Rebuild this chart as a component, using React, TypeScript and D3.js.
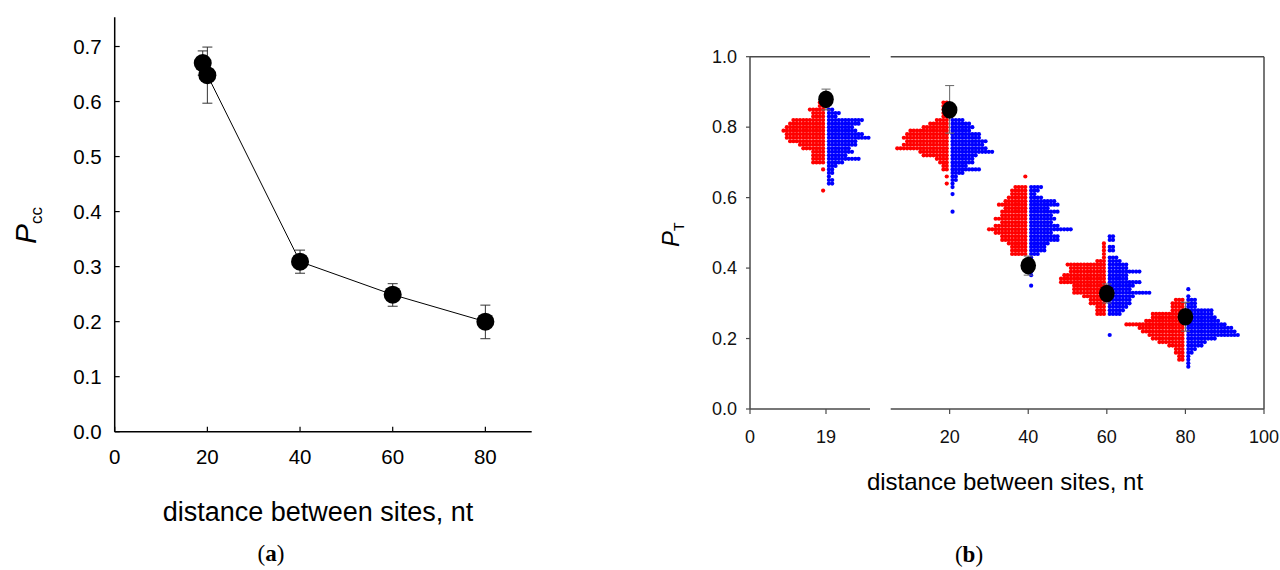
import React from 'react';
import * as d3 from 'd3';

// ---- panel (a): P_cc vs distance ----
const distA = [19, 20, 40, 60, 80];
const pccMean = [0.670, 0.648, 0.309, 0.249, 0.200];
const pccHigh = [0.692, 0.699, 0.330, 0.269, 0.230];
const pccLow = [0.648, 0.597, 0.288, 0.228, 0.169];
const xTicksA = [0, 20, 40, 60, 80];
const yTicksA = [0, 0.1, 0.2, 0.3, 0.4, 0.5, 0.6, 0.7];

// ---- panel (b): P_T distributions ----
const groupsB = [19, 20, 40, 60, 80];
const ptMean = [0.879, 0.849, 0.407, 0.328, 0.262];
const ptHigh = [0.908, 0.918, 0.434, 0.355, 0.303];
const ptLow = [0.849, 0.783, 0.380, 0.301, 0.221];
// lowest bin (in hundredths) of each group, dot counts per 0.01 bin going up
const binStart = [62, 56, 35, 21, 12];
const red19 = [1, 0, 0, 0, 0, 0, 1, 0, 4, 4, 4, 4, 7, 8, 11, 12, 12, 13, 12, 11, 10, 4, 4, 5, 2, 2];
const blue19 = [0, 0, 2, 2, 1, 2, 2, 3, 5, 10, 6, 8, 7, 9, 9, 13, 11, 9, 8, 10, 11, 3, 4, 2];
const red20 = [0, 0, 0, 0, 0, 0, 0, 0, 1, 0, 1, 0, 2, 2, 3, 4, 8, 9, 16, 14, 13, 14, 13, 12, 8, 6, 4, 2, 2, 2, 2, 2];
const blue20 = [1, 0, 0, 0, 0, 1, 0, 1, 1, 2, 2, 4, 9, 5, 7, 7, 8, 13, 11, 10, 11, 9, 9, 6, 7, 6, 4];
const red40 = [0, 0, 0, 0, 0, 0, 0, 0, 0, 5, 5, 5, 6, 8, 8, 10, 12, 10, 8, 10, 8, 8, 7, 9, 7, 6, 5, 5, 4, 0, 0, 1];
const blue40 = [1, 0, 0, 1, 1, 1, 1, 1, 1, 3, 5, 5, 6, 9, 9, 7, 13, 9, 7, 8, 7, 9, 6, 9, 8, 4, 2, 3, 4];
const red60 = [0, 0, 0, 0, 0, 0, 3, 3, 3, 5, 5, 7, 10, 10, 10, 14, 14, 13, 11, 11, 12, 3, 1, 1, 1, 1, 1];
const blue60 = [1, 0, 0, 0, 0, 0, 4, 5, 6, 7, 7, 8, 13, 7, 8, 10, 6, 6, 10, 6, 6, 4, 3, 0, 2, 2, 0, 2, 2];
const red80 = [0, 0, 2, 2, 3, 3, 5, 8, 10, 11, 13, 14, 18, 12, 10, 10, 4, 4, 4, 3];
const blue80 = [1, 1, 1, 1, 2, 3, 5, 6, 9, 16, 15, 14, 12, 10, 9, 8, 8, 3, 3, 3, 1, 0, 1];
const redRows = [red19, red20, red40, red60, red80];
const blueRows = [blue19, blue20, blue40, blue60, blue80];
const yTicksB = [0, 0.2, 0.4, 0.6, 0.8, 1.0];
const xTicksLeftB = [0, 19];
const xTicksRightB = [20, 40, 60, 80, 100];

const sans = '"Liberation Sans", Arial, sans-serif';
const serif = '"Liberation Serif", "Times New Roman", serif';

function PanelA() {
  const x = d3.scaleLinear().domain([0, 90]).range([114.7, 531.7]);
  const y = d3.scaleLinear().domain([0, 0.75]).range([431.7, 19]);
  const line = d3.line<number>().x((d, i) => x(distA[i])).y(d => y(d));
  return (
    <g>
      <line x1={x(0)} x2={x(0)} y1={y(0.753)} y2={y(0)} stroke="#000" strokeWidth={1.5} />
      <line x1={x(0)} x2={x(90)} y1={y(0)} y2={y(0)} stroke="#000" strokeWidth={1.5} />
      {yTicksA.map(t => (
        <g key={'ya' + t}>
          <line x1={x(0)} x2={x(0) + 5} y1={y(t)} y2={y(t)} stroke="#000" strokeWidth={1.2} />
          <text x={x(0) - 13} y={y(t)} dy="0.35em" textAnchor="end" fontSize={20.5} fontFamily={sans}>
            {d3.format('.1f')(t)}
          </text>
        </g>
      ))}
      {xTicksA.map(t => (
        <g key={'xa' + t}>
          <line x1={x(t)} x2={x(t)} y1={y(0)} y2={y(0) - 5} stroke="#000" strokeWidth={1.2} />
          <text x={x(t)} y={464} textAnchor="middle" fontSize={20.5} fontFamily={sans}>{t}</text>
        </g>
      ))}
      <path d={line(pccMean) || ''} fill="none" stroke="#000" strokeWidth={1} />
      {distA.map((d, i) => (
        <g key={'ea' + i} stroke="#333" strokeWidth={1}>
          <line x1={x(d)} x2={x(d)} y1={y(pccHigh[i])} y2={y(pccLow[i])} />
          <line x1={x(d) - 5} x2={x(d) + 5} y1={y(pccHigh[i])} y2={y(pccHigh[i])} />
          <line x1={x(d) - 5} x2={x(d) + 5} y1={y(pccLow[i])} y2={y(pccLow[i])} />
        </g>
      ))}
      {distA.map((d, i) => (
        <circle key={'ma' + i} cx={x(d)} cy={y(pccMean[i])} r={9} fill="#000" />
      ))}
      <text transform="translate(36,244) rotate(-90)" fontFamily={sans}>
        <tspan fontSize={30} fontStyle="italic">P</tspan>
        <tspan fontSize={17} dy={6}>cc</tspan>
      </text>
      <text x={318} y={521} textAnchor="middle" fontSize={27} fontFamily={sans}>distance between sites, nt</text>
      <text x={271} y={561} textAnchor="middle" fontSize={23} fontFamily={serif}>
        (<tspan fontWeight="bold">a</tspan>)
      </text>
    </g>
  );
}

function PanelB() {
  const xLeft = d3.scaleLinear().domain([0, 30]).range([750, 870]);
  const xRight = d3.scaleLinear().domain([5, 100]).range([890.7, 1264]);
  const y = d3.scaleLinear().domain([0, 1]).range([409, 56.7]);
  const gx = (g: number, i: number) => (i === 0 ? xLeft(g) : xRight(g));
  const axisColor = '#4a4a4a';
  const gap = 2.9;
  const step = 3.3;
  const dots: { x: number; y: number; c: string }[] = [];
  groupsB.forEach((g, gi) => {
    const cx = gx(g, gi);
    redRows[gi].forEach((n, r) => {
      const v = (binStart[gi] + r) / 100;
      for (let k = 0; k < n; k++) dots.push({ x: cx - gap - k * step, y: y(v), c: '#ff0000' });
    });
    blueRows[gi].forEach((n, r) => {
      const v = (binStart[gi] + r) / 100;
      for (let k = 0; k < n; k++) dots.push({ x: cx + gap + k * step, y: y(v), c: '#0000ff' });
    });
  });
  return (
    <g>
      {/* frame with broken x range */}
      <line x1={xLeft(0)} x2={xLeft(0)} y1={y(1)} y2={y(0)} stroke={axisColor} strokeWidth={1.5} />
      <line x1={xRight(100)} x2={xRight(100)} y1={y(1)} y2={y(0)} stroke={axisColor} strokeWidth={1.5} />
      {[0, 1].map(v => (
        <g key={'fr' + v}>
          <line x1={xLeft(0)} x2={xLeft(30)} y1={y(v)} y2={y(v)} stroke={axisColor} strokeWidth={1.5} />
          <line x1={xRight(5)} x2={xRight(100)} y1={y(v)} y2={y(v)} stroke={axisColor} strokeWidth={1.5} />
        </g>
      ))}
      {yTicksB.map(t => (
        <g key={'yb' + t}>
          <line x1={xLeft(0) - 4} x2={xLeft(0)} y1={y(t)} y2={y(t)} stroke={axisColor} strokeWidth={1.2} />
          <text x={xLeft(0) - 13} y={y(t)} dy="0.35em" textAnchor="end" fontSize={18} fontFamily={sans} fill="#111">
            {d3.format('.1f')(t)}
          </text>
        </g>
      ))}
      {xTicksLeftB.map(t => (
        <g key={'xl' + t}>
          <line x1={xLeft(t)} x2={xLeft(t)} y1={y(0)} y2={y(0) + 5} stroke={axisColor} strokeWidth={1.2} />
          <text x={xLeft(t)} y={443} textAnchor="middle" fontSize={18} fontFamily={sans} fill="#111">{t}</text>
        </g>
      ))}
      {xTicksRightB.map(t => (
        <g key={'xr' + t}>
          <line x1={xRight(t)} x2={xRight(t)} y1={y(0)} y2={y(0) + 5} stroke={axisColor} strokeWidth={1.2} />
          <text x={xRight(t)} y={443} textAnchor="middle" fontSize={18} fontFamily={sans} fill="#111">{t}</text>
        </g>
      ))}
      {dots.map((d, i) => (
        <circle key={'d' + i} cx={d.x} cy={d.y} r={2.1} fill={d.c} />
      ))}
      {groupsB.map((g, i) => {
        const cx = gx(g, i);
        return (
          <g key={'eb' + i} stroke="#666" strokeWidth={1}>
            <line x1={cx} x2={cx} y1={y(ptHigh[i])} y2={y(ptLow[i])} />
            <line x1={cx - 4.5} x2={cx + 4.5} y1={y(ptHigh[i])} y2={y(ptHigh[i])} />
            <line x1={cx - 4.5} x2={cx + 4.5} y1={y(ptLow[i])} y2={y(ptLow[i])} />
          </g>
        );
      })}
      {groupsB.map((g, i) => (
        <ellipse key={'mb' + i} cx={gx(g, i)} cy={y(ptMean[i])} rx={7.8} ry={8.8} fill="#000" />
      ))}
      <text transform="translate(679,247) rotate(-90)" fontFamily={sans}>
        <tspan fontSize={24} fontStyle="italic">P</tspan>
        <tspan fontSize={14} dy={5}>T</tspan>
      </text>
      <text x={1005} y={490} textAnchor="middle" fontSize={24} fontFamily={sans}>distance between sites, nt</text>
      <text x={969} y={562} textAnchor="middle" fontSize={23} fontFamily={serif}>
        (<tspan fontWeight="bold">b</tspan>)
      </text>
    </g>
  );
}

export default function App() {
  return (
    <svg
      width={1280}
      height={570}
      style={{ position: 'absolute', left: 0, top: 0, background: '#fff' }}
    >
      <rect width={1280} height={570} fill="#fff" />
      <PanelA />
      <PanelB />
    </svg>
  );
}
